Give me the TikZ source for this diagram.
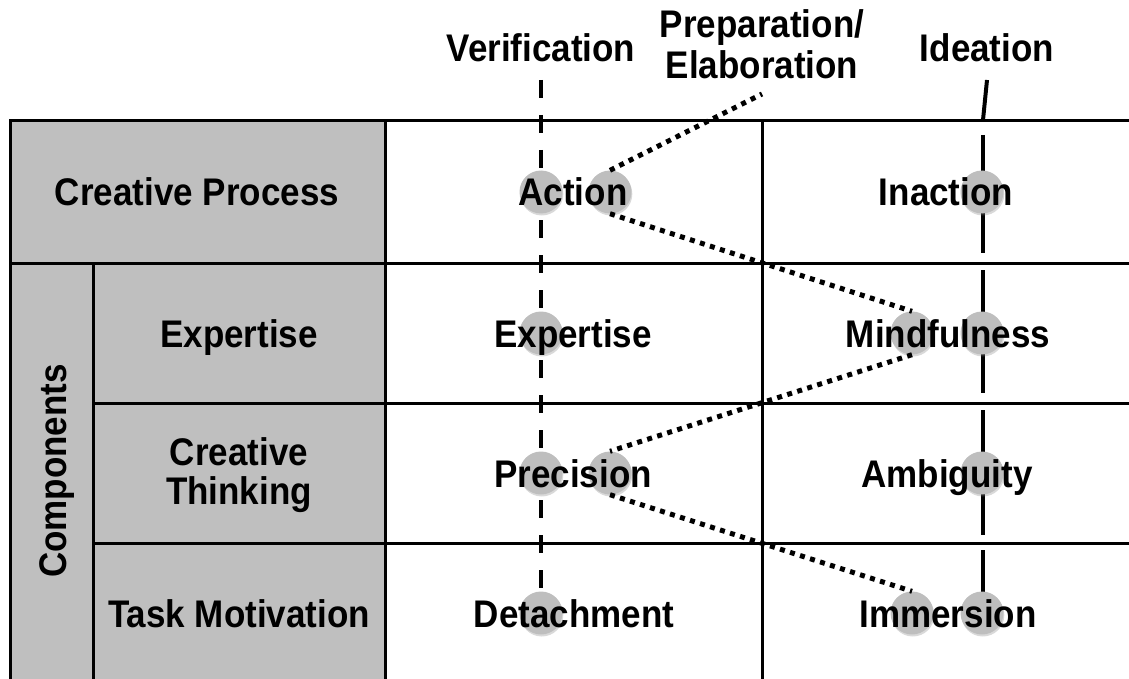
\documentclass[tikz,border=0pt]{standalone}
\usepackage{fontspec}
\setmainfont{Liberation Sans}
\usepackage{tikz}
\usetikzlibrary{shadows}
\definecolor{cellgrey}{RGB}{191,191,191}
\definecolor{bubblegrey}{RGB}{190,190,190}
\newcommand{\stretchtxt}[1]{\scalebox{1}[1.1]{#1}}
\tikzset{
  gridline/.style={line width=3pt},
  verifline/.style={line width=4pt, dash pattern=on 18pt off 17pt},
  idealine/.style={line width=4pt},
  dotline/.style={line width=5pt, dash pattern=on 5pt off 5.5pt},
  bubble/.style={circle, fill=bubblegrey, minimum size=43pt, inner sep=0pt,
    drop shadow={shadow xshift=0.8pt, shadow yshift=-2pt, opacity=0.3}},
  lbl/.style={font=\fontsize{35}{40}\selectfont\bfseries, inner sep=0pt, align=center}
}

\begin{document}
\begin{tikzpicture}[x=1pt,y=-1pt]
			\useasboundingbox (0,0) rectangle (1129,679);
			\fill[cellgrey] (10,121) rectangle (385,679);
			\draw[gridline] (10,679) -- (10,121) -- (1129,121);
			\draw[gridline] (10,263) -- (1129,263);
			\draw[gridline] (93,403) -- (1129,403);
			\draw[gridline] (93,543) -- (1129,543);
			\draw[gridline] (93,263) -- (93,679);
			\draw[gridline] (385,121) -- (385,679);
			\draw[gridline] (762,121) -- (762,679);
			\coordinate (vtop) at (541,80);
			\coordinate (vbot) at (541,588);
			\draw[verifline] (vtop) -- (vbot);
			\coordinate (itop) at (987,80);
			\coordinate (ikink) at (983,120);
			\draw[idealine] (itop) -- (ikink);
			\foreach \ya/\yb in {135/253, 270/393, 410/535, 550/592}
				\draw[idealine] (982.5,\ya) -- (982.5,\yb);
			\node[bubble] (act1) at (541,192) {};
			\node[bubble] (act2) at (610,192) {};
			\node[bubble] (inact) at (982,192) {};
			\node[bubble] (exp) at (541,333) {};
			\node[bubble] (mind1) at (912,333) {};
			\node[bubble] (mind2) at (982,333) {};
			\node[bubble] (prec1) at (541,473) {};
			\node[bubble] (prec2) at (610,473) {};
			\node[bubble] (amb) at (982,473) {};
			\node[bubble] (det) at (541,613) {};
			\node[bubble] (imm1) at (912,613) {};
			\node[bubble] (imm2) at (982,613) {};
			\coordinate (prepend) at (762,94);
			\draw[dotline] (act2.north) -- (prepend);
			\draw[dotline] (act2.south) -- (mind1.north);
			\draw[dotline] (mind1.south) -- (prec2.north);
			\draw[dotline] (prec2.south) -- (imm1.north);
			\node[lbl, anchor=base] (verif) at (541,62) {\stretchtxt{Verification}};
			\node[lbl, anchor=base] (prep) at (762,38) {\stretchtxt{Preparation/}};
			\node[lbl, anchor=base] (elab) at (762,79) {\stretchtxt{Elaboration}};
			\node[lbl, anchor=base] (idea) at (987,62) {\stretchtxt{Ideation}};
			\node[lbl, anchor=base] (cproc) at (197,206) {\stretchtxt{Creative Process}};
			\node[lbl, anchor=base, rotate=90] (comp) at (66,471) {\stretchtxt{Components}};
			\node[lbl, anchor=base] (cexp) at (239,347) {\stretchtxt{Expertise}};
			\node[lbl, font=\fontsize{35}{39}\selectfont\bfseries] (cthink) at (239,475) {\stretchtxt{Creative}\\\stretchtxt{Thinking}};
			\node[lbl, anchor=base] (ctask) at (239,627) {\stretchtxt{Task Motivation}};
			\node[lbl, anchor=base] (action) at (573,206) {\stretchtxt{Action}};
			\node[lbl, anchor=base] (inaction) at (946,206) {\stretchtxt{Inaction}};
			\node[lbl, anchor=base] (expert) at (573,347) {\stretchtxt{Expertise}};
			\node[lbl, anchor=base] (mindful) at (948,347) {\stretchtxt{Mindfulness}};
			\node[lbl, anchor=base] (precis) at (573,487) {\stretchtxt{Precision}};
			\node[lbl, anchor=base] (ambig) at (947,487) {\stretchtxt{Ambiguity}};
			\node[lbl, anchor=base] (detach) at (574,627) {\stretchtxt{Detachment}};
			\node[lbl, anchor=base] (immers) at (948,627) {\stretchtxt{Immersion}};
		\end{tikzpicture}
\end{document}
